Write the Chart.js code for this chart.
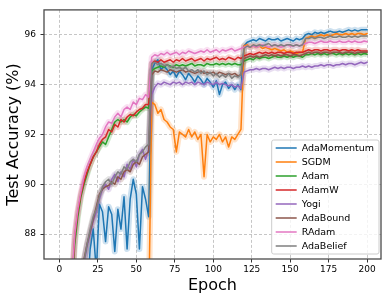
<!DOCTYPE html>
<html><head><meta charset="utf-8">
<script src="https://cdn.jsdelivr.net/npm/chart.js@4.4.1/dist/chart.umd.min.js"></script>
<style>html,body{margin:0;padding:0;background:#fff;}#wrap{width:390px;height:301px;}</style>
</head><body><div id="wrap"><canvas id="c" width="390" height="301"></canvas></div>
<script>
const epochs = [0,2,4,6,8,10,12,14,16,18,20,22,24,26,28,30,32,34,36,38,40,42,44,46,48,50,52,54,56,58,
60,62,64,66,68,70,72,74,76,78,80,82,84,86,88,90,92,94,96,98,100,102,104,106,108,110,112,114,116,118,
120,122,124,126,128,130,132,134,136,138,140,142,144,146,148,150,152,154,156,158,160,162,164,166,168,170,172,174,176,178,180,182,184,186,188,190,192,194,196,198,200];

const seriesNames = ['AdaMomentum','SGDM','Adam','AdamW','Yogi','AdaBound','RAdam','AdaBelief'];
const xTicks = [0,25,50,75,100,125,150,175,200];
const yTicks = [88,90,92,94,96];

const adaMomentum = [30,45,55,62,68,73,77,80,83,85.5,87.4,88.2,86.5,89.2,88.9,87.7,89.1,88.8,87.3,89.0,88.2,89.5,87.4,89.4,90.2,89.6,87.4,89.9,89.4,88.7,
94.6,94.85,95.0,94.6,94.75,94.6,94.4,94.55,94.3,94.55,94.4,94.2,94.45,94.3,94.1,94.35,94.2,94.0,94.25,94.1,93.9,94.15,93.6,94.0,94.1,93.85,94.0,93.8,94.0,93.8,
95.55,95.7,95.75,95.8,95.75,95.85,95.8,95.75,95.85,95.8,95.8,95.85,95.75,95.8,95.85,95.8,95.75,95.85,95.8,95.85,
96.0,96.05,96.0,96.1,96.05,96.1,96.05,96.1,96.15,96.1,96.1,96.15,96.1,96.15,96.2,96.15,96.2,96.15,96.2,96.2,96.2];
const sgdm = [45,58,66,71,74,76,77.5,78.5,79.5,80,80.5,81,81.5,81.8,82,82.3,82.5,82.8,83,83.2,83.3,83.5,83.6,83.8,84,84.1,84.3,84.4,84.5,84.6,
93.3,93.2,92.85,93.0,92.6,92.5,92.3,92.2,91.3,92.1,92.0,91.9,92.2,91.9,92.1,91.8,92.0,90.3,92.0,91.7,91.9,91.8,92.0,91.7,91.9,91.5,91.9,91.8,92.0,92.2,
95.55,95.6,95.5,95.55,95.5,95.55,95.45,95.5,95.45,95.4,95.45,95.4,95.35,95.4,95.3,95.35,95.3,95.25,95.3,95.3,
95.85,95.9,95.95,95.9,95.95,96.0,95.95,96.0,95.95,96.0,96.05,96.0,96.0,96.05,96.0,96.05,96.0,96.05,96.05,96.0,96.05];
const adam = [50,64,74,80.5,85.5,87.6,88.7,89.5,90.0,90.4,90.8,91.1,91.3,91.5,91.7,91.6,91.9,92.2,92.5,92.6,92.5,92.6,92.5,92.7,92.8,92.75,92.9,93.0,93.1,93.05,
94.55,94.65,94.7,94.75,94.7,94.8,94.75,94.7,94.8,94.75,94.8,94.75,94.8,94.85,94.75,94.8,94.8,94.75,94.85,94.8,94.8,94.85,94.8,94.85,94.8,94.85,94.8,94.85,94.8,94.8,
94.95,95.0,95.05,95.0,95.1,95.05,95.1,95.1,95.05,95.1,95.15,95.1,95.1,95.15,95.1,95.15,95.1,95.15,95.15,95.1,
95.2,95.2,95.25,95.2,95.25,95.2,95.25,95.2,95.25,95.25,95.2,95.25,95.2,95.25,95.2,95.25,95.2,95.25,95.2,95.25,95.22];
const adamW = [52,66,75,81,85.8,87.9,88.9,89.6,90.1,90.5,90.8,91.1,91.3,91.6,91.8,91.9,92.2,92.1,92.4,92.3,92.6,92.5,92.7,92.8,92.75,92.9,93.0,93.05,93.2,93.2,
94.85,94.95,94.9,95.0,94.9,94.95,95.0,94.9,95.0,94.95,95.05,94.95,95.0,95.05,94.95,95.0,95.05,94.95,95.05,95.0,95.05,95.1,95.0,95.05,95.0,95.1,95.05,95.0,95.1,95.05,
95.15,95.2,95.25,95.2,95.25,95.3,95.25,95.3,95.25,95.3,95.25,95.3,95.3,95.25,95.3,95.3,95.25,95.3,95.3,95.3,
95.35,95.4,95.35,95.4,95.4,95.35,95.4,95.4,95.35,95.4,95.4,95.35,95.4,95.4,95.35,95.4,95.35,95.4,95.35,95.35,95.35];
const yogi = [36,51,62,70,76,80.5,83.5,85.5,86.8,87.5,88.0,88.5,88.9,89.4,89.8,90.0,89.8,90.2,90.4,90.1,90.5,90.3,90.8,90.6,91.0,90.7,91.2,91.4,91.0,91.4,
93.6,93.9,94.05,94.0,94.1,94.05,94.0,94.1,94.05,94.1,94.0,94.1,94.05,94.1,94.0,94.1,94.05,94.0,94.1,94.05,94.0,94.1,94.0,94.05,94.0,93.95,94.0,93.9,93.95,93.85,
94.5,94.55,94.6,94.6,94.65,94.6,94.65,94.65,94.6,94.65,94.7,94.65,94.7,94.65,94.7,94.7,94.65,94.7,94.7,94.75,
94.7,94.75,94.7,94.75,94.75,94.8,94.75,94.8,94.8,94.75,94.8,94.8,94.85,94.8,94.85,94.85,94.8,94.85,94.9,94.85,94.9];
const adaBound = [40,55,65,72,78,82,84.5,86.0,87.0,87.6,88.1,88.6,89.1,89.6,89.8,89.9,89.95,90.1,90.0,90.3,90.2,90.5,90.6,90.5,90.8,90.9,90.8,91.1,91.2,91.3,
94.4,94.55,94.5,94.6,94.55,94.5,94.6,94.55,94.5,94.55,94.6,94.5,94.55,94.5,94.45,94.5,94.55,94.45,94.5,94.45,94.5,94.4,94.5,94.45,94.4,94.45,94.4,94.45,94.35,94.4,
95.05,95.1,95.15,95.1,95.15,95.1,95.15,95.2,95.15,95.2,95.15,95.2,95.15,95.2,95.2,95.15,95.2,95.2,95.15,95.2,
95.25,95.3,95.25,95.3,95.3,95.25,95.3,95.3,95.25,95.3,95.3,95.3,95.25,95.3,95.3,95.3,95.25,95.3,95.3,95.3,95.3];
const rAdam = [55,68,76,81.5,86.0,88.0,89.0,89.7,90.3,90.7,91.0,91.3,91.6,91.85,92.0,92.3,92.5,92.45,92.7,92.85,92.7,93.0,93.1,93.0,93.3,93.2,93.45,93.4,93.6,93.5,
95.1,95.2,95.15,95.25,95.2,95.3,95.2,95.25,95.3,95.2,95.3,95.25,95.35,95.3,95.25,95.3,95.35,95.3,95.4,95.3,95.35,95.4,95.3,95.4,95.35,95.4,95.45,95.35,95.4,95.45,
95.5,95.55,95.5,95.55,95.5,95.55,95.6,95.55,95.5,95.55,95.6,95.55,95.5,95.55,95.6,95.55,95.55,95.6,95.55,95.6,
95.65,95.7,95.7,95.65,95.7,95.75,95.7,95.7,95.75,95.7,95.7,95.75,95.7,95.7,95.75,95.7,95.75,95.7,95.7,95.75,95.72];
const adaBelief = [38,53,64,71,77.5,81.5,84,85.8,86.9,87.6,88.2,88.7,89.0,89.5,89.9,90.1,90.2,90.0,90.3,90.5,90.4,90.7,90.6,90.9,91.0,90.9,91.2,91.3,91.5,91.6,
94.85,94.9,94.8,94.85,94.75,94.8,94.7,94.75,94.65,94.7,94.6,94.7,94.55,94.6,94.5,94.6,94.45,94.55,94.4,94.5,94.35,94.45,94.3,94.4,94.3,94.45,94.25,94.35,94.3,94.4,
95.45,95.55,95.5,95.6,95.55,95.6,95.55,95.6,95.65,95.55,95.6,95.55,95.6,95.55,95.6,95.6,95.55,95.6,95.55,95.6,
95.85,95.85,95.9,95.85,95.9,95.9,95.85,95.9,95.95,95.9,95.9,95.95,95.9,95.9,95.95,95.9,95.95,95.9,95.95,95.95,95.95];

const allSeries = [adaMomentum, sgdm, adam, adamW, yogi, adaBound, rAdam, adaBelief];
const seriesColors = ['31,119,180','255,127,14','44,160,44','214,39,40','148,103,189','140,86,75','227,119,194','127,127,127'];

const datasets = [];
allSeries.forEach((vals, i) => {
  const pts = epochs.map((e, j) => ({x: e, y: vals[j]}));
  const n = allSeries.length;
  datasets.push({label: seriesNames[i], data: pts, borderColor: 'rgb(' + seriesColors[i] + ')', borderWidth: 1.5,
    pointRadius: 0, tension: 0, clip: 0, order: n - 1 - i, borderJoinStyle: 'round', borderCapStyle: 'round'});
  datasets.push({label: seriesNames[i] + ' band', isBand: true, data: pts, borderColor: 'rgba(' + seriesColors[i] + ',0.22)', borderWidth: 6,
    pointRadius: 0, tension: 0, clip: 0, order: 100 + n - 1 - i, borderJoinStyle: 'round', borderCapStyle: 'butt'});
});

const FONT = 'DejaVu Sans';

const framePlugin = {
  id: 'frame',
  afterDatasetsDraw(chart) {
    const {ctx, chartArea: a} = chart;
    ctx.save();
    ctx.strokeStyle = '#4a4a4a';
    ctx.lineWidth = 1.3;
    ctx.strokeRect(a.left, a.top, a.right - a.left, a.bottom - a.top);
    ctx.restore();
  }
};

const legendPlugin = {
  id: 'legendBox',
  afterDraw(chart) {
    const {ctx, chartArea: a} = chart;
    const items = chart.data.datasets.filter(d => !d.isBand);
    ctx.save();
    ctx.font = '9.5px "' + FONT + '"';
    const tw = Math.max(...items.map(d => ctx.measureText(d.label).width));
    const rowH = 14;
    const w = 30 + tw + 5;
    const h = rowH * items.length + 2;
    const right = a.right - 2, bottom = a.bottom - 5;
    const left = right - w, top = bottom - h;
    ctx.beginPath();
    if (ctx.roundRect) ctx.roundRect(left, top, w, h, 2); else ctx.rect(left, top, w, h);
    ctx.fillStyle = 'rgba(255,255,255,0.8)';
    ctx.fill();
    ctx.strokeStyle = '#cccccc';
    ctx.lineWidth = 1;
    ctx.stroke();
    items.forEach((d, k) => {
      const cy = top + 1 + rowH / 2 + rowH * k;
      ctx.beginPath();
      ctx.moveTo(left + 4, cy);
      ctx.lineTo(left + 25, cy);
      ctx.strokeStyle = d.borderColor;
      ctx.lineWidth = 1.5;
      ctx.stroke();
      ctx.fillStyle = '#000';
      ctx.textBaseline = 'middle';
      ctx.textAlign = 'left';
      ctx.fillText(d.label, left + 30, cy + 0.5);
    });
    ctx.restore();
  }
};

new Chart(document.getElementById('c'), {
  type: 'line',
  data: {datasets},
  options: {
    responsive: false,
    animation: false,
    devicePixelRatio: 1,
    layout: {padding: {left: 0, top: 7, right: 9, bottom: 0}},
    plugins: {legend: {display: false}, tooltip: {enabled: false}},
    scales: {
      x: {
        type: 'linear', min: -10, max: 209,
        afterBuildTicks: s => { s.ticks = xTicks.map(v => ({value: v})); },
        afterFit: s => { s.height = 42; },
        grid: {color: '#b8b8b8', lineWidth: 0.8, drawTicks: true, tickLength: 3.5, tickColor: '#333', tickWidth: 1},
        border: {display: false, dash: [3, 2]},
        ticks: {font: {family: FONT, size: 9}, color: '#000', padding: 1.5, maxRotation: 0, autoSkip: false},
        title: {display: true, text: 'Epoch', font: {family: FONT, size: 16}, color: '#000', padding: {top: 0, bottom: 6}}
      },
      y: {
        type: 'linear', min: 87, max: 97,
        afterBuildTicks: s => { s.ticks = yTicks.map(v => ({value: v})); },
        afterFit: s => { s.width = 44; },
        grid: {color: '#b8b8b8', lineWidth: 0.8, drawTicks: true, tickLength: 3.5, tickColor: '#333', tickWidth: 1},
        border: {display: false, dash: [3, 2]},
        ticks: {font: {family: FONT, size: 9}, color: '#000', padding: 4.5, autoSkip: false},
        title: {display: true, text: 'Test Accuracy (%)', font: {family: FONT, size: 16}, color: '#000', padding: {top: 4, bottom: 0}}
      }
    }
  },
  plugins: [framePlugin, legendPlugin]
});
</script>
</body></html>
